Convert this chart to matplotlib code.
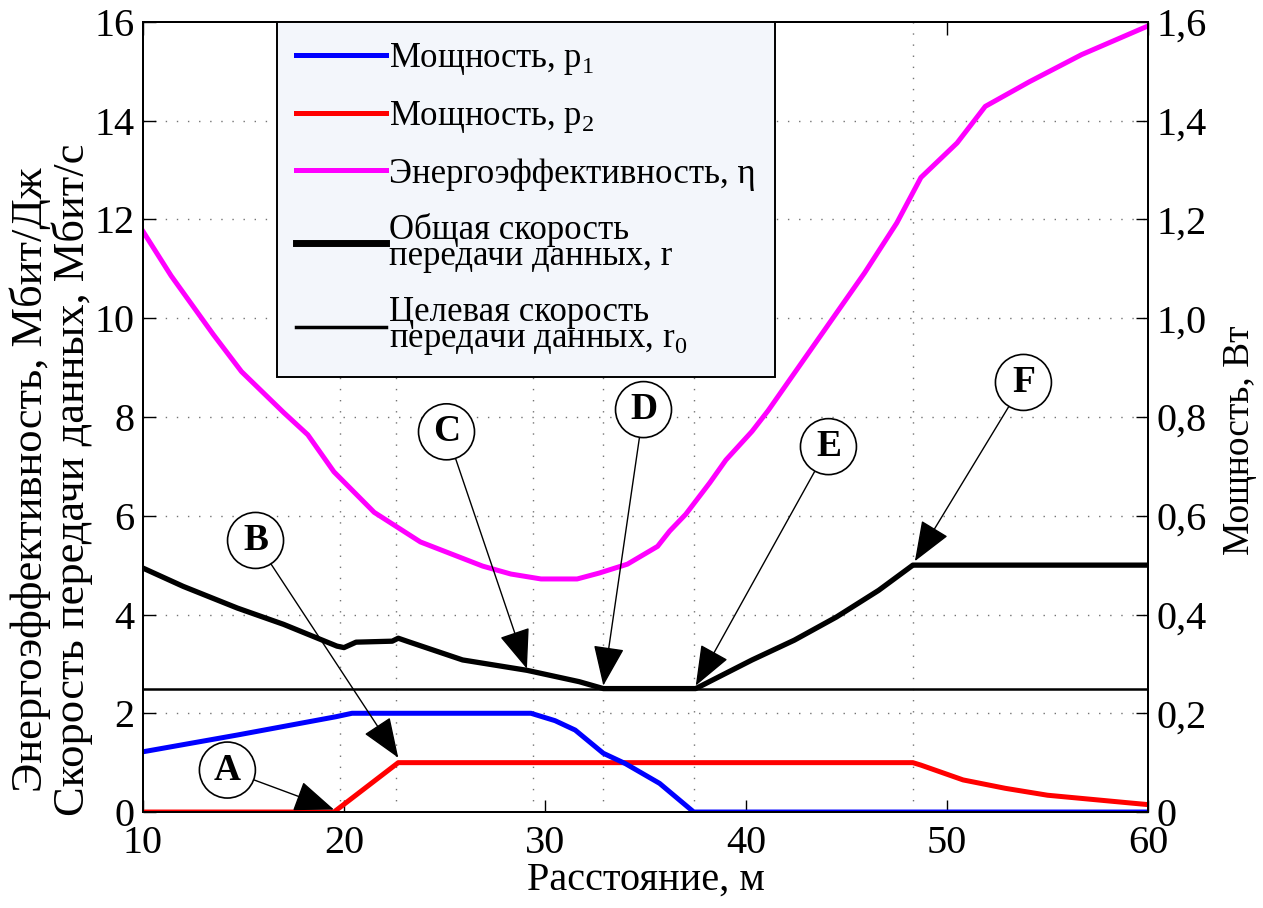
import numpy as np
import matplotlib
matplotlib.use("Agg")
import matplotlib.pyplot as plt

plt.rcParams['font.family'] = ['Liberation Serif', 'DejaVu Serif']
plt.rcParams['mathtext.fontset'] = 'custom'
plt.rcParams['mathtext.rm'] = 'Liberation Serif'

# energy efficiency eta, Mbit/J
dist_eta = [10, 11.4, 13.5, 14.9, 17.0, 18.2, 19.5, 21.5, 23.8, 26.9, 28.3, 29.8, 31.6, 32.7,
            34.1, 35.6, 36.2, 37.0, 38.2, 39.0, 40.3, 41.1, 42.7, 44.3, 45.9, 47.5, 48.7,
            50.5, 51.9, 54.1, 56.7, 60]
eta = [11.76, 10.86, 9.67, 8.92, 8.09, 7.64, 6.89, 6.07, 5.47, 4.98, 4.82, 4.72, 4.72, 4.84,
       5.02, 5.38, 5.69, 6.03, 6.67, 7.13, 7.71, 8.13, 9.06, 9.99, 10.92, 11.93, 12.85,
       13.55, 14.29, 14.79, 15.34, 15.92]

# total data rate r, Mbit/s
dist_r = [10, 12, 14.7, 17, 19.65, 20.0, 20.6, 22.4, 22.7, 23.2, 25.9, 29.1, 31.7, 32.9,
          37.5, 40.3, 42.4, 44.5, 46.6, 48.3, 60]
r = [4.94, 4.57, 4.13, 3.8, 3.36, 3.33, 3.44, 3.46, 3.52, 3.45, 3.08, 2.87, 2.64, 2.5,
     2.5, 3.08, 3.48, 3.95, 4.49, 5.0, 5.0]
r0 = 2.5

# powers, W
dist_p1 = [10, 14.7, 19.6, 20.4, 29.3, 30.5, 31.5, 32.9, 34.0, 35.7, 37.4, 60]
p1 = [0.122, 0.156, 0.193, 0.2, 0.2, 0.185, 0.166, 0.119, 0.098, 0.058, 0.0, 0.0]
dist_p2 = [10, 19.5, 22.7, 48.3, 48.7, 50.8, 52.9, 55.0, 57.1, 59.2, 60]
p2 = [0, 0, 0.1, 0.1, 0.095, 0.065, 0.048, 0.034, 0.026, 0.018, 0.015]

# key points A..F: point and circle position
key_labels = ['A', 'B', 'C', 'D', 'E', 'F']
key_pts = [(19.5, 0.05), (22.7, 1.1), (29.1, 2.9), (32.9, 2.56), (37.5, 2.56), (48.4, 5.08)]
key_circ = [(14.2, 0.85), (15.6, 5.5), (25.1, 7.7), (34.9, 8.15), (44.1, 7.4), (53.8, 8.7)]
key_grid = [19.8, 22.6, 29.4, 32.9, 37.4, 48.3]

fig = plt.figure(figsize=(12.63, 9.08), dpi=100)
ax = fig.add_axes([0.1132, 0.1057, 0.7958, 0.8701])
ax2 = ax.twinx()

dots = (0, (1, 7))
for y in range(2, 16, 2):
    ax.axhline(y, color='0.45', lw=1, ls=dots, zorder=0)
for xg in key_grid:
    ax.axvline(xg, color='0.45', lw=1, ls=dots, zorder=0)

l_eta, = ax.plot(dist_eta, eta, color='#ff00ff', lw=3.6, label='Энергоэффективность, η')
l_r, = ax.plot(dist_r, r, color='k', lw=3.8, label='Общая скорость\nпередачи данных, r')
l_r0 = ax.axhline(r0, color='k', lw=1.8, label='Целевая скорость\nпередачи данных, r$_\\mathrm{0}$')

l_p2, = ax2.plot(dist_p2, p2, color='#ff0000', lw=3.6, label='Мощность, p$_\\mathrm{2}$')
l_p1, = ax2.plot(dist_p1, p1, color='#0000ff', lw=3.6, label='Мощность, p$_\\mathrm{1}$')

ax.set_xlim(10, 60)
ax.set_ylim(0, 16)
ax2.set_ylim(0, 1.6)
ax.set_xticks([10, 20, 30, 40, 50, 60])
ax.set_yticks(range(0, 17, 2))
ax2.set_yticks(np.arange(0, 1.61, 0.2))
ax2.set_yticklabels(['0'] + [('%.1f' % v).replace('.', ',') for v in np.arange(0.2, 1.61, 0.2)])

ax.tick_params(axis='x', direction='in', length=9, width=1, top=True, labelsize=29, pad=9)
ax.tick_params(axis='y', direction='in', length=9, width=1, labelsize=29, pad=6)
ax2.tick_params(axis='y', direction='in', length=9, width=1, labelsize=29, pad=6)
for a in (ax, ax2):
    for s in a.spines.values():
        s.set_linewidth(1.4)

ax.set_xlabel('Расстояние, м', fontsize=29, labelpad=0)
ax.set_ylabel('Энергоэффективность, Мбит/Дж\nСкорость передачи данных, Мбит/с',
              fontsize=32, linespacing=1.02)
ax.yaxis.set_label_coords(-0.05, 0.42)
ax2.set_ylabel('Мощность, Вт', fontsize=27)
ax2.yaxis.set_label_coords(1.074, 0.47)

for lab, pt, cp in zip(key_labels, key_pts, key_circ):
    ax2.annotate(lab, xy=pt, xycoords=ax.transData, xytext=cp, textcoords=ax.transData,
                 fontsize=27, fontweight='bold', ha='center', va='center',
                 bbox=dict(boxstyle='circle,pad=0.28', fc='white', ec='k', lw=1.2),
                 arrowprops=dict(arrowstyle='-|>,head_length=0.85,head_width=0.33',
                                 color='k', lw=1, mutation_scale=30,
                                 shrinkA=0, shrinkB=0))

leg = ax2.legend(handles=[l_p1, l_p2, l_eta, l_r, l_r0], loc='upper left',
                 bbox_to_anchor=(0.133, 1.0), borderaxespad=0, fontsize=25,
                 frameon=True, fancybox=False, framealpha=1, facecolor='#f3f6fb',
                 edgecolor='k', handlelength=2.6, handletextpad=0.1,
                 labelspacing=0.64, borderpad=0.55)
leg.get_frame().set_linewidth(1.4)
for t in leg.get_texts():
    t.set_linespacing(0.75)
leg.legend_handles[3].set_linewidth(5)
leg.legend_handles[4].set_linewidth(2.5)

fig.savefig('out.png', dpi=100)
